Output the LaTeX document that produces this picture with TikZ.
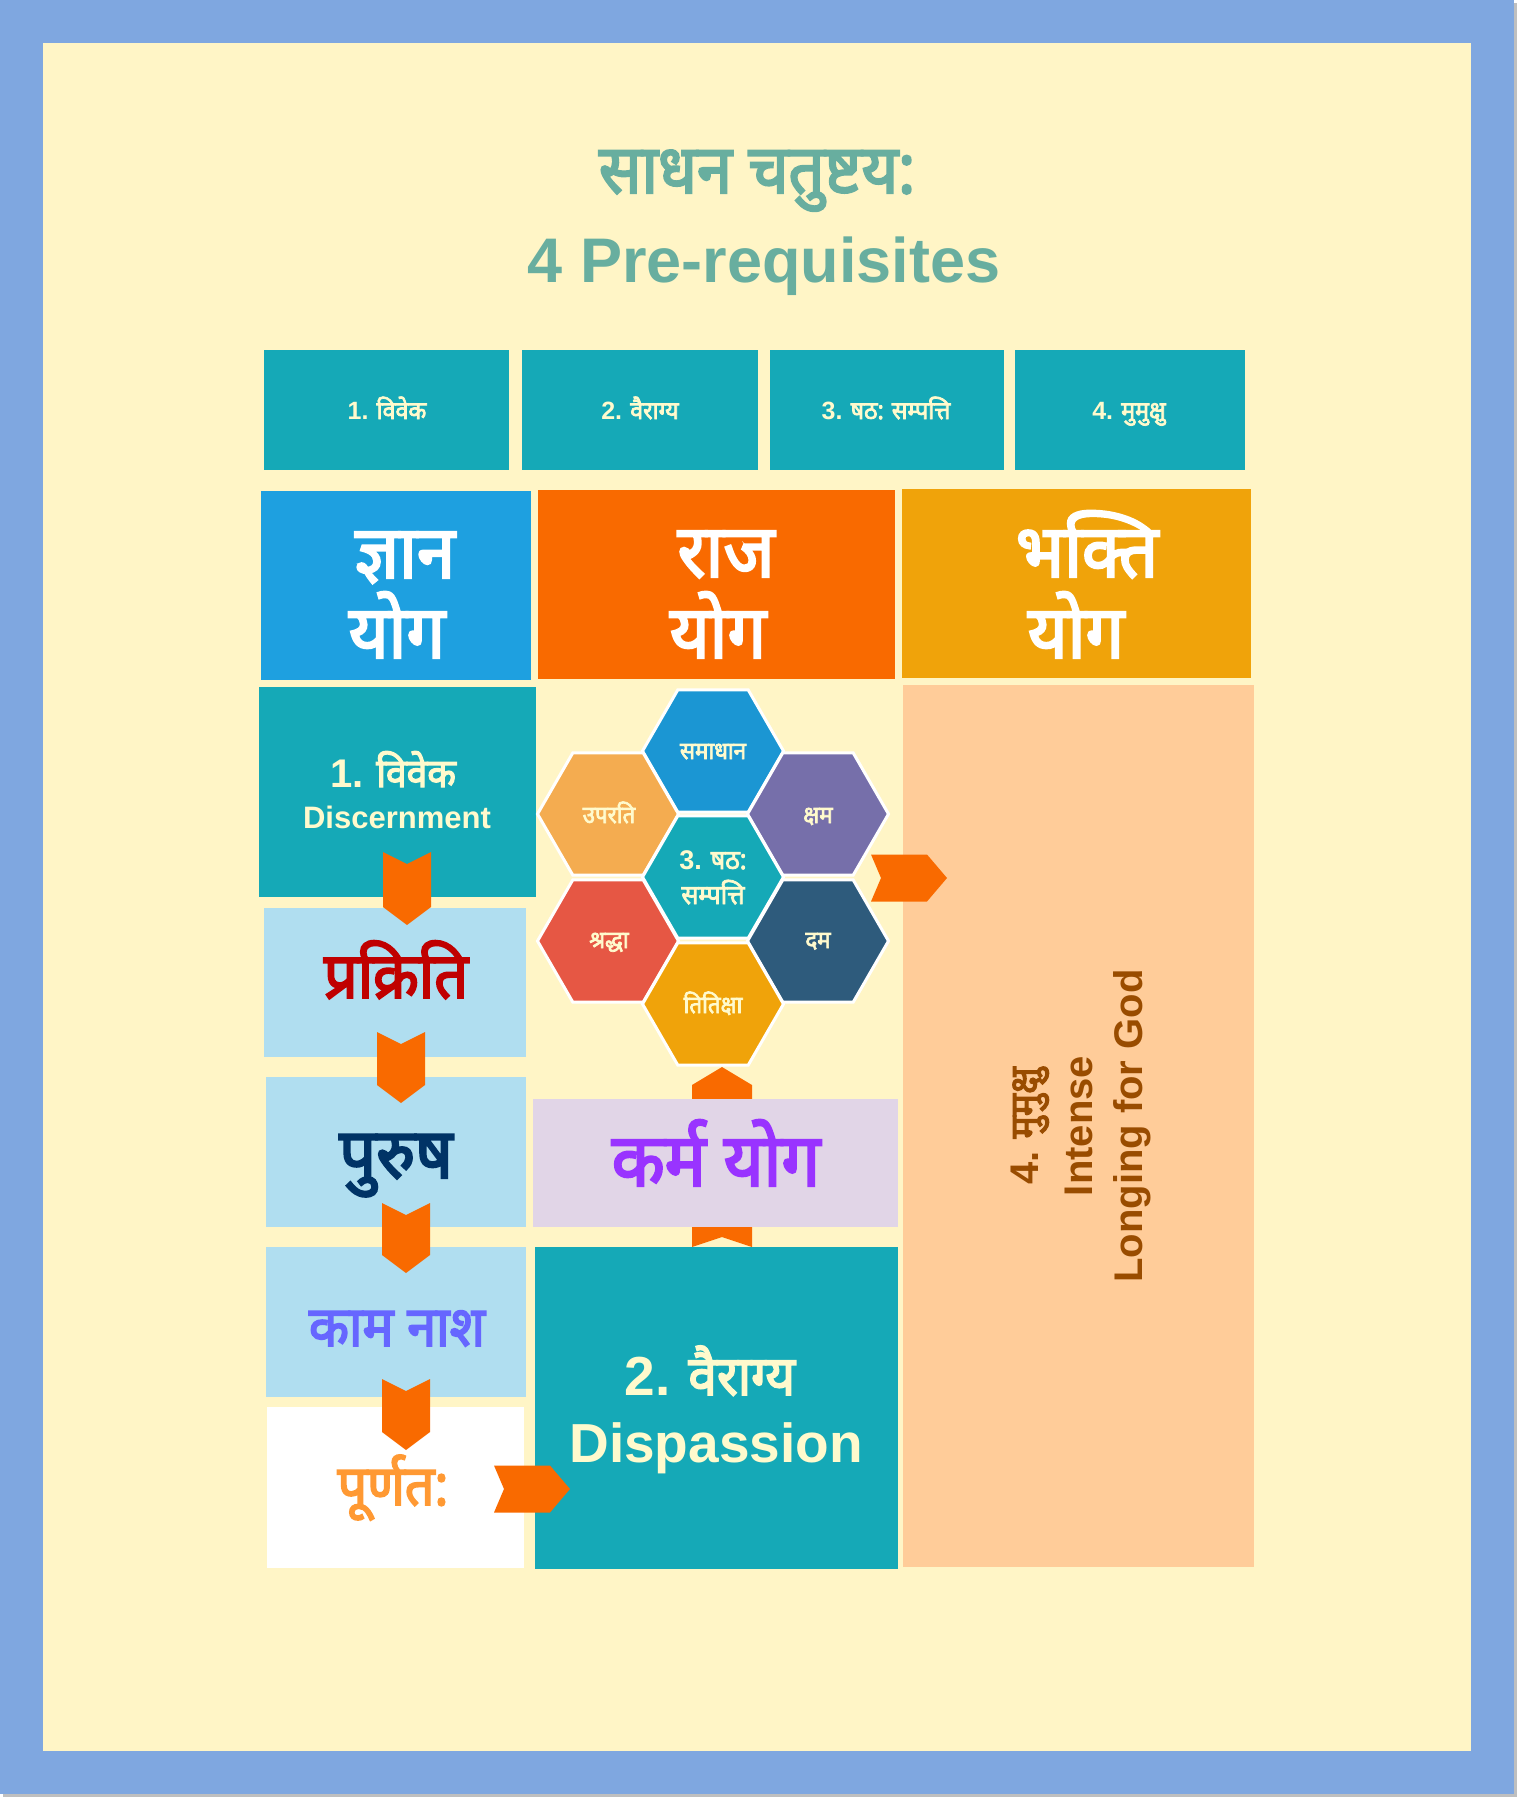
\documentclass[tikz,border=0pt]{standalone}
\usepackage{fontspec}
\setmainfont{Liberation Sans}
\newfontfamily\deva[Script=Devanagari, AutoFakeBold=3, FakeStretch=0.93]{Noto Sans}
\usetikzlibrary{shapes.geometric}
\definecolor{frameblue}{HTML}{7FA7E0}
\definecolor{shadowgray}{HTML}{BFBFBF}
\definecolor{cream}{HTML}{FFF5C6}
\definecolor{titlegreen}{HTML}{68AE9F}
\definecolor{tealbox}{HTML}{15A9B7}
\definecolor{lighttext}{HTML}{FFFACD}
\definecolor{jblue}{HTML}{1EA0E0}
\definecolor{rorange}{HTML}{F96A00}
\definecolor{bamber}{HTML}{F0A30A}
\definecolor{peach}{HTML}{FFCC99}
\definecolor{mbrown}{HTML}{994C00}
\definecolor{lblue}{HTML}{B0DEF0}
\definecolor{lavender}{HTML}{E1D5E7}
\definecolor{kpurple}{HTML}{9933FF}
\definecolor{pred}{HTML}{C00000}
\definecolor{pnavy}{HTML}{003366}
\definecolor{kperi}{HTML}{6666FF}
\definecolor{porange}{HTML}{FF9933}
\definecolor{hblue}{HTML}{1B96D3}
\definecolor{hlorange}{HTML}{F4AC50}
\definecolor{hpurple}{HTML}{766FAA}
\definecolor{hred}{HTML}{E65744}
\definecolor{hslate}{HTML}{2E5B7C}
\definecolor{chev}{HTML}{F96A00}
\newcommand{\fsz}[1]{\fontsize{#1}{#1}\selectfont}
\newcommand{\num}[1]{{\rmfamily\bfseries #1}}
\newcommand{\chevD}[3]{\fill[chev] (#1-24,#2) -- (#1,#2+12) -- (#1+24,#2) -- (#1+24,#2+#3-18) -- (#1,#2+#3) -- (#1-24,#2+#3-18) -- cycle;}
\newcommand{\chevR}[2]{\fill[chev] (#1,#2-23.5) -- (#1+56,#2-23.5) -- (#1+76,#2) -- (#1+56,#2+23.5) -- (#1,#2+23.5) -- (#1+10,#2) -- cycle;}
\newcommand{\chevU}[3]{\fill[chev] (#1,#2) -- (#1+30,#2+18) -- (#1+30,#3) -- (#1,#3-10) -- (#1-30,#3) -- (#1-30,#2+18) -- cycle;}
\tikzset{
  box/.style={draw=none, inner sep=0pt, outer sep=0pt, anchor=north west},
  hexa/.style={regular polygon, regular polygon sides=6, minimum size=141pt, inner sep=0pt, draw=white, line width=3pt},
  lbl/.style={inner sep=0pt, anchor=base},
  dv/.style={lbl, font=\deva\bfseries},
  lt/.style={lbl, font=\bfseries},
}
\begin{document}
\begin{tikzpicture}[x=1pt,y=-1pt]
\useasboundingbox (0,0) rectangle (1528,1799);
\fill[white] (0,0) rectangle (1528,1799);
\fill[shadowgray] (3,3) rectangle (1517,1797);
\fill[frameblue] (0,0) rectangle (1514,1794);
\fill[cream] (43,43) rectangle (1471,1751);

% title
\node[dv, text=titlegreen, font=\deva\bfseries\fsz{68}] (title1) at (757,193) {साधन चतुष्टय:};
\node[lt, text=titlegreen, font=\bfseries\fsz{63}] (title2) at (764,282) {4 Pre-requisites};

% hidden-bottom up chevrons (behind karma box)
\chevU{722}{1067}{1115}
\chevU{722}{1200}{1247}

% top row
\node[box, fill=tealbox, minimum width=245pt, minimum height=120pt] (t1) at (264,350) {};
\node[box, fill=tealbox, minimum width=236pt, minimum height=120pt] (t2) at (522,350) {};
\node[box, fill=tealbox, minimum width=234pt, minimum height=120pt] (t3) at (770,350) {};
\node[box, fill=tealbox, minimum width=230pt, minimum height=120pt] (t4) at (1015,350) {};

% yoga row
\node[box, fill=jblue, minimum width=270pt, minimum height=189pt] (jnana) at (261,491) {};
\node[box, fill=rorange, minimum width=357pt, minimum height=189pt] (raja) at (538,490) {};
\node[box, fill=bamber, minimum width=349pt, minimum height=189pt] (bhakti) at (902,489) {};

% left column
\node[box, fill=tealbox, minimum width=277pt, minimum height=210pt] (disc) at (259,687) {};
\node[box, fill=lblue, minimum width=262pt, minimum height=149pt] (prak) at (264,908) {};
\node[box, fill=lblue, minimum width=260pt, minimum height=150pt] (puru) at (266,1077) {};
\node[box, fill=lblue, minimum width=260pt, minimum height=150pt] (kama) at (266,1247) {};
\node[box, fill=white, minimum width=257pt, minimum height=161pt] (purn) at (267,1407) {};

% middle column
\node[box, fill=lavender, minimum width=365pt, minimum height=128pt] (karma) at (533,1099) {};
\node[box, fill=tealbox, minimum width=363pt, minimum height=322pt] (vair) at (535,1247) {};

% right column
\node[box, fill=peach, minimum width=351pt, minimum height=882pt] (mumu) at (903,685) {};

% hexagons
\node[hexa, fill=hblue] (hsam) at (713,751) {};
\node[hexa, fill=hlorange] (hupa) at (608,814) {};
\node[hexa, fill=hpurple] (hksh) at (818,814) {};
\node[hexa, fill=tealbox] (hcen) at (713,877) {};
\node[hexa, fill=hred] (hshr) at (608,941) {};
\node[hexa, fill=hslate] (hdam) at (818,941) {};
\node[hexa, fill=bamber] (htit) at (713,1004) {};

% chevrons
\chevD{407}{852}{73}
\chevD{401}{1032}{71}
\chevD{406}{1203}{70}
\chevD{406}{1379}{71}
\chevR{494}{1489}
\chevR{871}{878}

% labels: top row
\node[dv, text=lighttext, font=\deva\bfseries\fsz{25}] (lt1) at (387,419) {\num{1.} विवेक};
\node[dv, text=lighttext, font=\deva\bfseries\fsz{25}] (lt2) at (640,419) {\num{2.} वैराग्य};
\node[dv, text=lighttext, font=\deva\bfseries\fsz{25}] (lt3) at (886,419) {\num{3.} षठ: सम्पत्ति};
\node[dv, text=lighttext, font=\deva\bfseries\fsz{25}] (lt4) at (1129,419) {\num{4.} मुमुक्षु};

% yoga labels
\node[dv, text=white, font=\deva\bfseries\fsz{74}] (lj1) at (405,578) {ज्ञान};
\node[dv, text=white, font=\deva\bfseries\fsz{74}] (lj2) at (397,658) {योग};
\node[dv, text=white, font=\deva\bfseries\fsz{74}] (lr1) at (726,577) {राज};
\node[dv, text=white, font=\deva\bfseries\fsz{74}] (lr2) at (718,658) {योग};
\node[dv, text=white, font=\deva\bfseries\fsz{74}] (lb1) at (1087,577) {भक्ति};
\node[dv, text=white, font=\deva\bfseries\fsz{74}] (lb2) at (1076,658) {योग};

% left column labels
\node[dv, text=lighttext, font=\deva\bfseries\fsz{40}] (ld1) at (393,787) {\num{1.} विवेक};
\node[lt, text=lighttext, font=\bfseries\fsz{31}] (ld2) at (397,828) {Discernment};
\node[dv, text=pred, font=\deva\bfseries\fsz{64}] (lprak) at (396,998) {प्रक्रिति};
\node[dv, text=pnavy, font=\deva\bfseries\fsz{70}] (lpuru) at (396,1178) {पुरुष};
\node[dv, text=kperi, font=\deva\bfseries\fsz{56}] (lkama) at (397,1346) {काम नाश};
\node[dv, text=porange, font=\deva\bfseries\fsz{56}] (lpurn) at (393,1505) {पूर्णत:};

% middle labels
\node[dv, text=kpurple, font=\deva\bfseries\fsz{74}] (lkarma) at (716,1186) {कर्म योग};
\node[dv, text=lighttext, font=\deva\bfseries\fsz{55}] (lv1) at (710,1395) {\num{2.} वैराग्य};
\node[lt, text=lighttext, font=\bfseries\fsz{55}] (lv2) at (716,1462) {Dispassion};

% hexagon labels
\node[dv, text=lighttext, font=\deva\bfseries\fsz{24}] (lhsam) at (713,759) {समाधान};
\node[dv, text=lighttext, font=\deva\bfseries\fsz{24}] (lhupa) at (609,823) {उपरति};
\node[dv, text=lighttext, font=\deva\bfseries\fsz{24}] (lhksh) at (818,823) {क्षम};
\node[dv, text=lighttext, font=\deva\bfseries\fsz{27}] (lhc1) at (713,869) {\num{3.} षठ:};
\node[dv, text=lighttext, font=\deva\bfseries\fsz{27}] (lhc2) at (713,904) {सम्पत्ति};
\node[dv, text=lighttext, font=\deva\bfseries\fsz{24}] (lhshr) at (609,948) {श्रद्धा};
\node[dv, text=lighttext, font=\deva\bfseries\fsz{24}] (lhdam) at (818,948) {दम};
\node[dv, text=lighttext, font=\deva\bfseries\fsz{24}] (lhtit) at (713,1013) {तितिक्षा};

% mumukshu rotated text
\node[dv, text=mbrown, font=\deva\bfseries\fsz{40}, rotate=90] (lm1) at (1038,1126) {\num{4.} मुमुक्षु};
\node[lt, text=mbrown, font=\bfseries\fsz{40}, rotate=90] (lm2) at (1092,1126) {Intense};
\node[lt, text=mbrown, font=\bfseries\fsz{40}, rotate=90] (lm3) at (1142,1126) {Longing for God};
\end{tikzpicture}
\end{document}
